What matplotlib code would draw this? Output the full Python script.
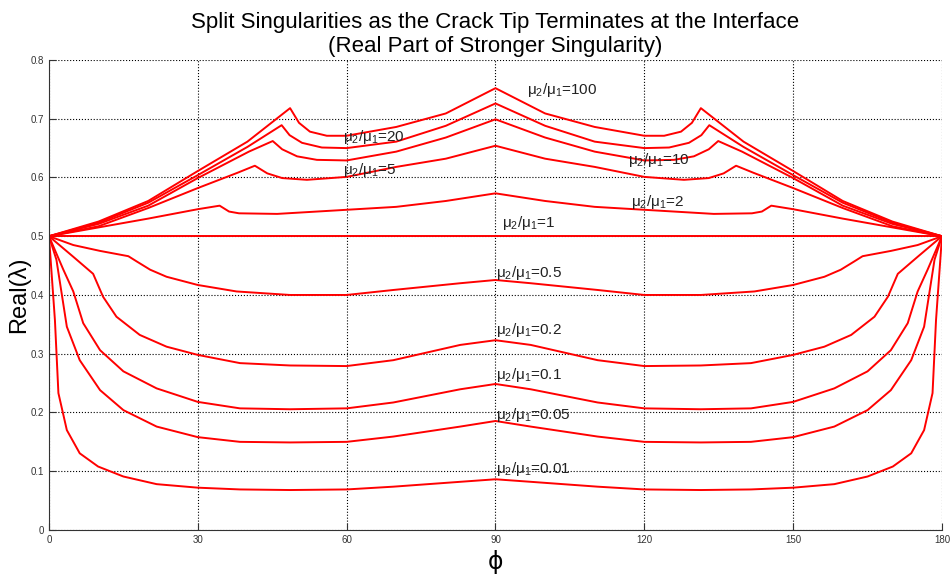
import matplotlib
matplotlib.use('Agg')
import matplotlib.pyplot as plt

plt.rcParams['font.family'] = ['Liberation Sans Narrow', 'Liberation Sans', 'DejaVu Sans']
plt.rcParams['mathtext.fontset'] = 'custom'
plt.rcParams['mathtext.rm'] = 'Liberation Sans'
plt.rcParams['mathtext.it'] = 'Liberation Sans'

# phi (deg) and Re(lambda) for each modulus ratio mu2/mu1
phi_100 = [0, 10, 20, 30, 40, 48.6, 50.4, 52.6, 56, 60, 70, 80, 90,
           100, 110, 120, 124, 127.4, 129.6, 131.4, 140, 150, 160, 170, 180]
re_100 = [0.5, 0.525, 0.56, 0.611, 0.661, 0.718, 0.693, 0.678, 0.671, 0.671, 0.686, 0.709, 0.752,
          0.709, 0.686, 0.671, 0.671, 0.678, 0.693, 0.718, 0.661, 0.611, 0.56, 0.525, 0.5]

phi_20 = [0, 10, 20, 30, 40, 46.9, 48.5, 51, 55, 60, 70, 80, 90,
          100, 110, 120, 125, 129, 131.5, 133.1, 140, 150, 160, 170, 180]
re_20 = [0.5, 0.523, 0.557, 0.604, 0.652, 0.689, 0.672, 0.659, 0.651, 0.650, 0.661, 0.688, 0.726,
         0.688, 0.661, 0.650, 0.651, 0.659, 0.672, 0.689, 0.652, 0.604, 0.557, 0.523, 0.5]

phi_10 = [0, 10, 20, 30, 40.3, 45.1, 47, 50, 54, 60, 70, 80, 90,
          100, 110, 120, 126, 130, 133, 134.9, 139.7, 150, 160, 170, 180]
re_10 = [0.5, 0.521, 0.552, 0.599, 0.644, 0.662, 0.648, 0.636, 0.630, 0.629, 0.644, 0.668, 0.699,
         0.668, 0.644, 0.629, 0.630, 0.636, 0.648, 0.662, 0.644, 0.599, 0.552, 0.521, 0.5]

phi_5 = [0, 10, 20, 30, 38, 41.5, 44, 47, 52, 60, 70, 80, 90,
         100, 110, 120, 128, 133, 136, 138.5, 142, 150, 160, 170, 180]
re_5 = [0.5, 0.517, 0.548, 0.582, 0.608, 0.620, 0.607, 0.599, 0.596, 0.601, 0.618, 0.632, 0.654,
        0.632, 0.618, 0.601, 0.596, 0.599, 0.607, 0.620, 0.608, 0.582, 0.548, 0.517, 0.5]

phi_2 = [0, 10, 20, 30, 34.4, 36.3, 38.3, 46, 60, 70, 80, 90,
         100, 110, 120, 134, 141.7, 143.7, 145.6, 150, 160, 170, 180]
re_2 = [0.5, 0.515, 0.530, 0.546, 0.552, 0.542, 0.539, 0.538, 0.545, 0.550, 0.560, 0.573,
        0.560, 0.550, 0.545, 0.538, 0.539, 0.542, 0.552, 0.546, 0.530, 0.515, 0.5]

phi_1 = [0, 180]
re_1 = [0.5, 0.5]

phi_05 = [0, 4.9, 10.3, 16, 17.7, 20.4, 23.7, 30, 37.8, 48.6, 60, 69.4, 82.9, 90,
          97.1, 110.6, 120, 131.4, 142.2, 150, 156.3, 159.6, 162.3, 164, 169.7, 175.1, 180]
re_05 = [0.5, 0.485, 0.475, 0.466, 0.457, 0.443, 0.431, 0.417, 0.406, 0.400, 0.400, 0.4085, 0.420, 0.4255,
         0.420, 0.4085, 0.400, 0.400, 0.406, 0.417, 0.431, 0.443, 0.457, 0.466, 0.475, 0.485, 0.5]

phi_02 = [0, 4.9, 8.9, 10.9, 13.6, 18.3, 23.7, 30, 38.5, 48.6, 60, 69.4, 82.9, 90,
          97.1, 110.6, 120, 131.4, 141.5, 150, 156.3, 161.7, 166.4, 169.1, 171.1, 175.1, 180]
re_02 = [0.5, 0.465, 0.436, 0.397, 0.363, 0.332, 0.312, 0.298, 0.284, 0.280, 0.279, 0.289, 0.315, 0.323,
         0.315, 0.289, 0.279, 0.280, 0.284, 0.298, 0.312, 0.332, 0.363, 0.397, 0.436, 0.465, 0.5]

phi_01 = [0, 2.9, 4.9, 6.9, 10.3, 15, 21.7, 30, 38.5, 48.6, 60, 69.4, 82.9, 90,
          97.1, 110.6, 120, 131.4, 141.5, 150, 158.3, 165, 169.7, 173.1, 175.1, 177.1, 180]
re_01 = [0.5, 0.443, 0.406, 0.352, 0.306, 0.270, 0.241, 0.218, 0.207, 0.2055, 0.207, 0.217, 0.2395, 0.2485,
         0.2395, 0.217, 0.207, 0.2055, 0.207, 0.218, 0.241, 0.270, 0.306, 0.352, 0.406, 0.443, 0.5]

phi_005 = [0, 1.5, 3.6, 6.2, 10.3, 15, 21.7, 30, 38.5, 48.6, 60, 69.4, 82.9, 90,
           97.1, 110.6, 120, 131.4, 141.5, 150, 158.3, 165, 169.7, 173.8, 176.4, 178.5, 180]
re_005 = [0.5, 0.460, 0.346, 0.289, 0.238, 0.204, 0.176, 0.158, 0.150, 0.149, 0.150, 0.159, 0.176, 0.1855,
          0.176, 0.159, 0.150, 0.149, 0.150, 0.158, 0.176, 0.204, 0.238, 0.289, 0.346, 0.460, 0.5]

phi_001 = [0, 1.2, 1.9, 3.6, 6.2, 9.9, 15, 21.7, 30, 38.5, 48.6, 60, 69.4, 82.9, 90,
           97.1, 110.6, 120, 131.4, 141.5, 150, 158.3, 165, 170.1, 173.8, 176.4, 178.1, 178.8, 180]
re_001 = [0.5, 0.357, 0.233, 0.170, 0.1305, 0.108, 0.091, 0.078, 0.072, 0.069, 0.068, 0.069, 0.0737, 0.082, 0.0863,
          0.082, 0.0737, 0.069, 0.068, 0.069, 0.072, 0.078, 0.091, 0.108, 0.1305, 0.170, 0.233, 0.357, 0.5]

curves = [(phi_100, re_100), (phi_20, re_20), (phi_10, re_10), (phi_5, re_5), (phi_2, re_2),
          (phi_1, re_1), (phi_05, re_05), (phi_02, re_02), (phi_01, re_01),
          (phi_005, re_005), (phi_001, re_001)]

# curve labels: ratio text, phi and Re position of the text
label_ratio = ['100', '20', '10', '5', '2', '1', '0.5', '0.2', '0.1', '0.05', '0.01']
label_phi = [96.4, 59.3, 116.7, 59.3, 117.3, 91.3, 90.1, 90.1, 90.1, 90.1, 90.1]
label_re = [0.749, 0.669, 0.630, 0.613, 0.559, 0.522, 0.437, 0.340, 0.264, 0.196, 0.103]

x_ticks = [0, 30, 60, 90, 120, 150, 180]
y_ticks = [0, 0.1, 0.2, 0.3, 0.4, 0.5, 0.6, 0.7, 0.8]

fig = plt.figure(figsize=(9.51, 5.75), dpi=100)
ax = fig.add_axes([0.0515, 0.0783, 0.939, 0.8174])

for phi, re in curves:
    ax.plot(phi, re, color='red', lw=1.4)

for r, px, py in zip(label_ratio, label_phi, label_re):
    ax.text(px, py, r'$\mu_2/\mu_1$=' + r, fontsize=11, ha='left', va='center', color='#222222')

ax.set_xlim(0, 180)
ax.set_ylim(0, 0.8)
ax.set_xticks(x_ticks)
ax.set_yticks(y_ticks)
ax.set_xticklabels([str(t) for t in x_ticks])
ax.set_yticklabels(['0'] + ['%.1f' % t for t in y_ticks[1:]])
ax.tick_params(direction='in', length=5, labelsize=7, colors='#333333', width=0.8)
ax.grid(True, color='black', linestyle=':', linewidth=0.8)
ax.set_axisbelow(True)
for side in ['top', 'right']:
    ax.spines[side].set_visible(False)
for side in ['left', 'bottom']:
    ax.spines[side].set_color('#333333')

ax.set_title('Split Singularities as the Crack Tip Terminates at the Interface\n'
             '(Real Part of Stronger Singularity)', fontsize=16, pad=6, linespacing=1.15)
ax.set_ylabel('Real(λ)', fontsize=17, labelpad=0)
ax.set_xlabel('ϕ', fontsize=17, family=['DejaVu Sans'], labelpad=4)

fig.savefig('out.png', dpi=100)
